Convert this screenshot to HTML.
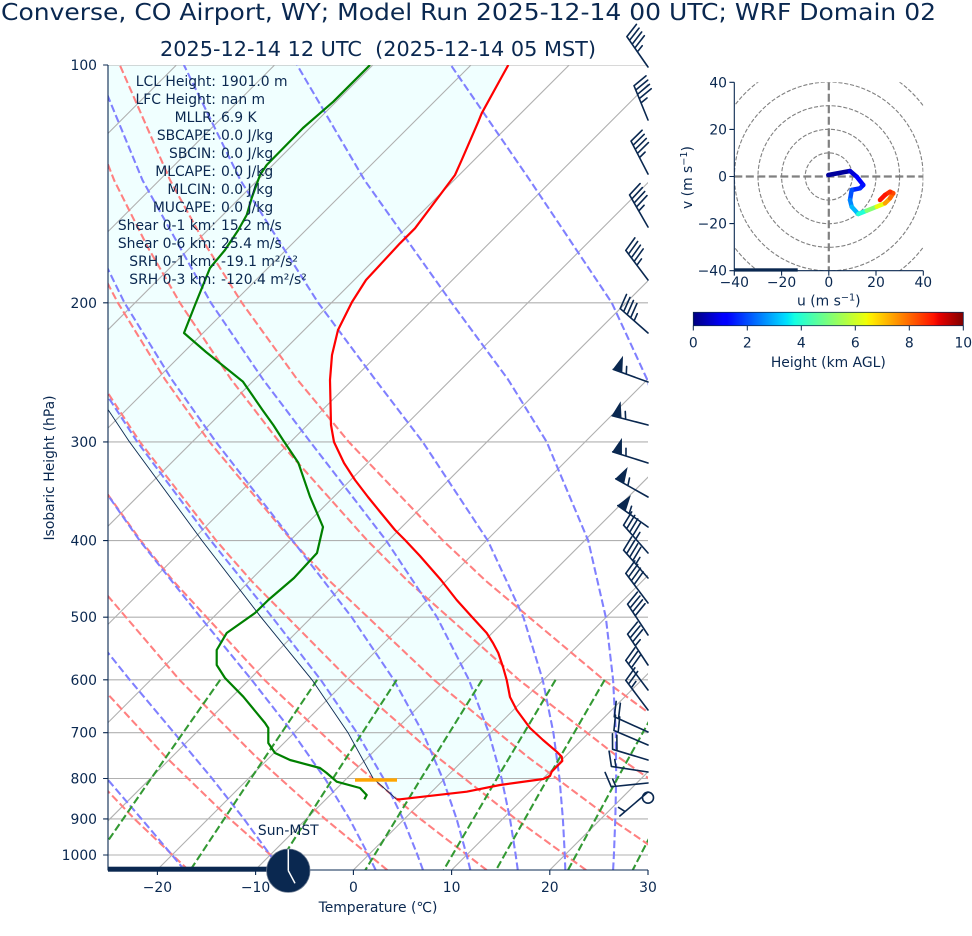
<!DOCTYPE html>
<html><head><meta charset="utf-8">
<style>
html,body{margin:0;padding:0;background:#fff;}
svg{display:block;font-family:"DejaVu Sans","Liberation Sans",sans-serif;}
text{fill:#0a2850;}
</style></head><body>
<svg width="972" height="936" viewBox="0 0 972 936" xmlns="http://www.w3.org/2000/svg" xmlns:xlink="http://www.w3.org/1999/xlink">
<defs>
<clipPath id="pc"><rect x="108" y="65" width="540" height="805"/></clipPath>
<clipPath id="hc"><rect x="734.3" y="82.3" width="189" height="188.4"/></clipPath>
<linearGradient id="jet" x1="0" y1="0" x2="1" y2="0">
<stop offset="0" stop-color="#000080"/><stop offset="0.11" stop-color="#0000ff"/><stop offset="0.125" stop-color="#0000ff"/>
<stop offset="0.34" stop-color="#00dbff"/><stop offset="0.35" stop-color="#00e5f7"/><stop offset="0.375" stop-color="#14ffe2"/>
<stop offset="0.64" stop-color="#eeff08"/><stop offset="0.65" stop-color="#f7f500"/><stop offset="0.66" stop-color="#ffec00"/>
<stop offset="0.89" stop-color="#ff1300"/><stop offset="0.91" stop-color="#e80000"/><stop offset="1" stop-color="#800000"/>
</linearGradient>
<g id="bA"><path d="M0,0H37M37,0L41.6,14.8M32.4,0L37,14.8M27.75,0L32.4,14.8M23.1,0L27.75,14.8M18.5,0L20.8,7.4"/></g>
<g id="bB"><path d="M0,0H37M23.1,0L25.4,7.4"/><path d="M37,0L32.4,14.8L27.75,0Z" fill="#0a2850" stroke-width="0.8"/></g>
<g id="bC"><path d="M0,0H37M37,0L41.6,14.8M32.4,0L37,14.8M27.75,0L32.4,14.8M23.1,0L27.75,14.8"/></g>
<g id="bD"><path d="M0,0H37M37,0L41.6,14.8M32.4,0L37,14.8M27.75,0L32.4,14.8M23.1,0L25.4,7.4"/></g>
<g id="bE"><path d="M0,0H37M37,0L41.6,14.8M32.4,0L37,14.8M27.75,0L32.4,14.8"/></g>
<g id="bF"><path d="M0,0H37M37,0L41.6,14.8M32.4,0L37,14.8M27.75,0L30.1,7.4"/></g>
<g id="bG"><path d="M0,0H37M37,0L41.6,14.8M32.4,0L37,14.8"/></g>
<g id="bH"><path d="M0,0H37M37,0L41.6,14.8M32.4,0L34.7,7.4"/></g>
<g id="bJ"><path d="M0,0H37M30.1,0L32.4,7.4"/></g>
</defs>
<rect width="972" height="936" fill="#fff"/>

<g clip-path="url(#pc)">
  <path fill="#f0ffff" stroke="none" d="M396.7,799.3 L373.2,778.5 L348,732.7 L312,679.8 L261,617.2 L202,540.6 L129.5,441.9 L88,379.4 L0,379.4 L0,60 L508.3,60 L508.3,65 L500,80 L481.7,113.3 L478.3,121.7 L461.7,160 L455,175 L440,195 L415,228.3 L400,243.3 L366,280 L352,302 L338,330 L332,355 L330,380 L331,425 L334,442 L344,463 L355,480 L368,497 L381,513 L395,530 L405,540 L420,556 L441,580 L456.7,600 L472,617 L486.7,633 L493,643 L498.3,653 L503,667 L506.7,680 L510,697 L516.7,710 L530,728 L543,740 L556.7,751.7 L561.7,756.7 L562.3,761 L558.3,765 L551.7,771.7 L550,776 L543.3,779 L500,785 L466.7,791.7 L400,799.3 Z"/>
  <g stroke="#b0b0b0" stroke-width="1.1" fill="none">
    <path d="M-628.6,870L176.4,65M-530.4,870L274.6,65M-432.2,870L372.8,65M-334,870L471,65M-235.8,870L569.2,65M-137.6,870L667.4,65M-39.4,870L765.6,65M58.8,870L863.8,65M157,870L962,65M255.2,870L1060.2,65M353.4,870L1158.4,65M451.6,870L1256.6,65M549.8,870L1354.8,65M648,870L1453,65"/>
    <path d="M108,65H648M108,302.8H648M108,441.9H648M108,540.6H648M108,617.2H648M108,679.8H648M108,732.7H648M108,778.5H648M108,818.9H648M108,855H648"/>
  </g>
  <g stroke="#ff8080" stroke-width="2.08" stroke-dasharray="7.7 3.3" fill="none">
    <path d="M188.4,870.1 L134.4,818.9 L74.6,756.3 L9.7,679.8"/>
    <path d="M287.8,870.1 L229.7,818.9 L165.1,756.3 L94.6,679.8 L17.1,581.1"/>
    <path d="M387.3,870.1 L325.0,818.9 L255.5,756.3 L179.4,679.8 L95.2,581.1 L65.1,540.6"/>
    <path d="M486.7,870.1 L420.3,818.9 L346.0,756.3 L264.3,679.8 L173.4,581.1 L140.7,540.6 L70.3,441.9"/>
    <path d="M586.1,870.1 L515.6,818.9 L436.4,756.3 L349.2,679.8 L251.6,581.1 L216.2,540.6 L139.9,441.9 L99.0,379.4 L55.9,302.8"/>
    <path d="M685.6,870.1 L610.9,818.9 L526.9,756.3 L434.0,679.8 L329.7,581.1 L291.8,540.6 L209.5,441.9 L165.0,379.4 L117.9,302.8 L88.5,247.1 L58.2,180.4"/>
    <path d="M706.2,818.9 L617.3,756.3 L518.9,679.8 L407.9,581.1 L367.4,540.6 L279.2,441.9 L231.1,379.4 L179.9,302.8 L147.7,247.1 L114.2,180.4 L69.0,65"/>
    <path d="M707.8,756.3 L603.7,679.8 L486.1,581.1 L443.0,540.6 L348.8,441.9 L297.2,379.4 L241.9,302.8 L206.9,247.1 L170.2,180.4 L119.8,65"/>
  </g>
  <g stroke="#8080ff" stroke-width="2.08" stroke-dasharray="7.7 3.3" fill="none">
    <path d="M184.5,870.1 L172.0,855 L141.5,818.9 L106.8,778.5 L67.9,732.7"/>
    <path d="M280.6,870.1 L270.2,855 L243.9,818.9 L212.1,778.5 L174.0,732.7 L129.7,679.8 L79.5,617.2 L24.0,540.6"/>
    <path d="M375.7,870.1 L368.4,855 L349.5,818.9 L324.9,778.5 L292.8,732.7 L251.6,679.8 L200.4,617.2 L139.7,540.6 L70.5,441.9 L33.1,379.4"/>
    <path d="M423.0,870.1 L417.5,855 L403.0,818.9 L383.5,778.5 L356.9,732.7 L320.7,679.8 L272.2,617.2 L210.8,540.6 L137.3,441.9 L96.7,379.4 L54.0,302.8"/>
    <path d="M470.4,870.1 L466.6,855 L456.6,818.9 L442.7,778.5 L422.8,732.7 L393.8,679.8 L351.7,617.2 L292.6,540.6 L215.9,441.9 L171.7,379.4 L124.5,302.8 L64.4,180.4"/>
    <path d="M517.8,870.1 L515.7,855 L510.0,818.9 L501.6,778.5 L488.8,732.7 L468.9,679.8 L437.0,617.2 L386.2,540.6 L310.3,441.9 L263.0,379.4 L210.9,302.8 L142.6,180.4 L95.0,65"/>
    <path d="M565.3,870.1 L564.8,855 L562.9,818.9 L559.5,778.5 L553.4,732.7 L542.7,679.8 L523.4,617.2 L487.8,540.6 L422.7,441.9 L375.1,379.4 L318.2,302.8 L240.5,180.4 L183.9,65"/>
    <path d="M613.1,870.1 L613.9,855 L615.3,818.9 L616.2,778.5 L615.8,732.7 L613.1,679.8 L605.8,617.2 L588.2,540.6 L546.7,441.9 L508.0,379.4 L451.6,302.8 L364.7,180.4 L297.1,65"/>
    <path d="M661.2,870.1 L663.0,855 L667.2,818.9 L671.4,778.5 L675.7,732.7 L679.5,679.8 L681.8,617.2 L680.0,540.6 L666.1,441.9 L647.1,379.4 L611.8,302.8 L530.0,180.4 L450.8,65"/>
  </g>
  <g stroke="#339933" stroke-width="2.08" stroke-dasharray="7.7 3.3" fill="none">
    <path d="M220.2,679.8 L151.1,778.5 L87.7,870.1"/>
    <path d="M317.2,679.8 L250.9,778.5 L190.3,870.1"/>
    <path d="M396.7,679.8 L332.9,778.5 L274.6,870.1"/>
    <path d="M482.1,679.8 L421.0,778.5 L365.3,870.1"/>
    <path d="M555.6,679.8 L496.9,778.5 L443.6,870.1"/>
    <path d="M604.7,679.8 L547.7,778.5 L496.0,870.1"/>
    <path d="M672.1,679.8 L617.4,778.5 L568.0,870.1"/>
    <path d="M732.5,679.8 L680.0,778.5 L632.7,870.1"/>
  </g>
  <path stroke="#0a2850" stroke-width="0.9" fill="none" d="M396.7,799.3 L373.2,778.5 L348,732.7 L312,679.8 L261,617.2 L202,540.6 L129.5,441.9 L88,379.4 L42,302.8"/>
  <path stroke="#ff0000" stroke-width="2.2" fill="none" stroke-linejoin="round" d="M508.3,65 L500,80 L481.7,113.3 L478.3,121.7 L461.7,160 L455,175 L440,195 L415,228.3 L400,243.3 L366,280 L352,302 L338,330 L332,355 L330,380 L331,425 L334,442 L344,463 L355,480 L368,497 L381,513 L395,530 L405,540 L420,556 L441,580 L456.7,600 L472,617 L486.7,633 L493,643 L498.3,653 L503,667 L506.7,680 L510,697 L516.7,710 L530,728 L543,740 L556.7,751.7 L561.7,756.7 L562.3,761 L558.3,765 L551.7,771.7 L550,776 L543.3,779 L500,785 L466.7,791.7 L400,799.3 L396.7,799.3"/>
  <path stroke="#008000" stroke-width="2.2" fill="none" stroke-linejoin="round" d="M370,65 L333.3,101.7 L303,128 L266.7,165 L260,175 L251.7,198 L246.7,215 L238.3,230 L225,250 L210,268 L195,305 L184,333 L206,352 L243,381.7 L262.5,410 L273.3,425 L283,440 L298.3,462.7 L310,496.7 L323,527 L317,553 L294,578 L268.3,600 L255,613 L226.7,633 L216.7,650 L216.7,665 L225,678 L243.3,696.7 L265,723 L268.3,728 L268.3,743 L275,753 L290,760 L320,768 L326.7,773 L336.7,781.7 L360,788 L366.7,795 L364.3,799.3"/>
  <rect x="355" y="778.3" width="42" height="3.4" fill="#ffa500"/>
</g>

<g stroke="#0a2850" stroke-width="1.1" fill="none">
  <path d="M108,65V870H648"/>
  <path d="M103.1,65H108M103.1,302.8H108M103.1,441.9H108M103.1,540.6H108M103.1,617.2H108M103.1,679.8H108M103.1,732.7H108M103.1,778.5H108M103.1,818.9H108M103.1,855H108"/>
  <path d="M157.4,870V875M255.6,870V875M353.4,870V875M451.6,870V875M549.8,870V875M648,870V875"/>
</g>
<rect x="108" y="866.7" width="159" height="5" fill="#0a2850"/>

<text x="1" y="20" font-size="23" textLength="935" lengthAdjust="spacingAndGlyphs">Converse, CO Airport, WY; Model Run 2025-12-14 00 UTC; WRF Domain 02</text>
<text x="160" y="56" font-size="20.8" textLength="436" lengthAdjust="spacingAndGlyphs" style="white-space:pre">2025-12-14 12 UTC  (2025-12-14 05 MST)</text>

<g font-size="13.9" text-anchor="end">
<text x="97" y="70">100</text>
<text x="97" y="307.8">200</text>
<text x="97" y="446.9">300</text>
<text x="97" y="545.6">400</text>
<text x="97" y="622.2">500</text>
<text x="97" y="684.8">600</text>
<text x="97" y="737.7">700</text>
<text x="97" y="783.5">800</text>
<text x="97" y="823.9">900</text>
<text x="97" y="860">1000</text>
</g>
<g font-size="13.9" text-anchor="middle">
<text x="157.4" y="892">−20</text>
<text x="255.6" y="892">−10</text>
<text x="353.4" y="892">0</text>
<text x="451.6" y="892">10</text>
<text x="549.8" y="892">20</text>
<text x="648" y="892">30</text>
<text x="378" y="912">Temperature (℃)</text>
<text transform="translate(54,468) rotate(-90)">Isobaric Height (hPa)</text>
</g>

<g font-size="13.9">
<g text-anchor="end">
<text x="216" y="86">LCL Height:</text>
<text x="216" y="104">LFC Height:</text>
<text x="216" y="122">MLLR:</text>
<text x="216" y="140">SBCAPE:</text>
<text x="216" y="158">SBCIN:</text>
<text x="216" y="176">MLCAPE:</text>
<text x="216" y="194">MLCIN:</text>
<text x="216" y="212">MUCAPE:</text>
<text x="216" y="230">Shear 0-1 km:</text>
<text x="216" y="248">Shear 0-6 km:</text>
<text x="216" y="266">SRH 0-1 km:</text>
<text x="216" y="284">SRH 0-3 km:</text>
</g>
<g text-anchor="start">
<text x="221" y="86">1901.0 m</text>
<text x="221" y="104">nan m</text>
<text x="221" y="122">6.9 K</text>
<text x="221" y="140">0.0 J/kg</text>
<text x="221" y="158">0.0 J/kg</text>
<text x="221" y="176">0.0 J/kg</text>
<text x="221" y="194">0.0 J/kg</text>
<text x="221" y="212">0.0 J/kg</text>
<text x="221" y="230">15.2 m/s</text>
<text x="221" y="248">25.4 m/s</text>
<text x="221" y="266">-19.1 m²/s²</text>
<text x="221" y="284">-120.4 m²/s²</text>
</g>
</g>

<text x="288.3" y="835" font-size="13.9" text-anchor="middle">Sun-MST</text>
<circle cx="288.3" cy="870.7" r="21.7" fill="#0a2850" stroke="#6b7a90" stroke-width="0.8"/>
<line x1="288.3" y1="870.7" x2="288.3" y2="849.3" stroke="#fff" stroke-width="1.5"/>
<line x1="288.3" y1="870.7" x2="295" y2="883.3" stroke="#fff" stroke-width="1.5"/>

<g stroke="#0a2850" stroke-width="1.6" fill="none" stroke-linecap="round">
<use href="#bA" xlink:href="#bA" transform="translate(648,67) rotate(-124.8)"/>
<use href="#bA" xlink:href="#bA" transform="translate(648,120) rotate(-112.2)"/>
<use href="#bA" xlink:href="#bA" transform="translate(648,174) rotate(-117.3)"/>
<use href="#bA" xlink:href="#bA" transform="translate(648,227) rotate(-119.9)"/>
<use href="#bA" xlink:href="#bA" transform="translate(648,280) rotate(-126.9)"/>
<use href="#bA" xlink:href="#bA" transform="translate(648,333) rotate(-138.7)"/>
<use href="#bB" xlink:href="#bB" transform="translate(648,382) rotate(-160.1)"/>
<use href="#bB" xlink:href="#bB" transform="translate(648,425) rotate(-165.5)"/>
<use href="#bB" xlink:href="#bB" transform="translate(648,463) rotate(-162.5)"/>
<use href="#bB" xlink:href="#bB" transform="translate(648,497) rotate(-150.6)"/>
<use href="#bB" xlink:href="#bB" transform="translate(648,527) rotate(-144.7)"/>
<use href="#bA" xlink:href="#bA" transform="translate(648,553) rotate(-131.3)"/>
<use href="#bA" xlink:href="#bA" transform="translate(648,578) rotate(-131.3)"/>
<use href="#bC" xlink:href="#bC" transform="translate(648,603) rotate(-126.9)"/>
<use href="#bC" xlink:href="#bC" transform="translate(648,635) rotate(-123.5)"/>
<use href="#bD" xlink:href="#bD" transform="translate(648,665) rotate(-123.5)"/>
<use href="#bE" xlink:href="#bE" transform="translate(648,690) rotate(-126.9)"/>
<use href="#bF" xlink:href="#bF" transform="translate(648,710) rotate(-126.9)"/>
<use href="#bG" xlink:href="#bG" transform="translate(648,732) rotate(-155.7)"/>
<use href="#bG" xlink:href="#bG" transform="translate(648,745) rotate(-157)"/>
<use href="#bG" xlink:href="#bG" transform="translate(648,760) rotate(-163.2)"/>
<use href="#bH" xlink:href="#bH" transform="translate(648,772) rotate(-171.4)"/>
<use href="#bH" xlink:href="#bH" transform="translate(648,783) rotate(174.2)"/>
<use href="#bJ" xlink:href="#bJ" transform="translate(648,792) rotate(139.5)"/>
<circle cx="648" cy="797.7" r="5.5"/>
</g>

<g clip-path="url(#hc)">
  <g stroke="#808080" stroke-width="1.1" stroke-dasharray="4.1 1.8" fill="none">
    <circle cx="828.8" cy="176.5" r="23.6"/>
    <circle cx="828.8" cy="176.5" r="47.2"/>
    <circle cx="828.8" cy="176.5" r="70.8"/>
    <circle cx="828.8" cy="176.5" r="94.4"/>
    <circle cx="828.8" cy="176.5" r="118"/>
  </g>
  <line x1="828.8" y1="82.3" x2="828.8" y2="270.7" stroke="#808080" stroke-width="2.2" stroke-dasharray="8 3.5"/>
  <line x1="734.3" y1="176.5" x2="923.3" y2="176.5" stroke="#808080" stroke-width="2.2" stroke-dasharray="8 3.5"/>
  <g stroke-width="4.5" stroke-linecap="round" fill="none">
    <path d="M828.3,175L850,171" stroke="rgb(0,0,157)"/>
    <path d="M850,171L856.7,176.7" stroke="rgb(0,0,214)"/>
    <path d="M856.7,176.7L863.3,185" stroke="rgb(0,0,255)"/>
    <path d="M863.3,185L860,188.3" stroke="rgb(0,15,255)"/>
    <path d="M860,188.3L851.7,190" stroke="rgb(0,41,255)"/>
    <path d="M851.7,190L850,200" stroke="rgb(0,82,255)"/>
    <path d="M850,200L851.7,206.7" stroke="rgb(0,133,255)"/>
    <path d="M851.7,206.7L858.3,214" stroke="rgb(0,184,255)"/>
    <path d="M858.3,214L866.7,210.7" stroke="rgb(33,255,214)"/>
    <path d="M866.7,210.7L876.7,206.7" stroke="rgb(132,255,115)"/>
    <path d="M876.7,206.7L885,203.3" stroke="rgb(234,255,12)"/>
    <path d="M885,203.3L890,198.3" stroke="rgb(255,161,0)"/>
    <path d="M890,198.3L893.3,193.3" stroke="rgb(255,104,0)"/>
    <path d="M893.3,193.3L890,191.7" stroke="rgb(255,71,0)"/>
    <path d="M890,191.7L885,195" stroke="rgb(255,43,0)"/>
    <path d="M885,195L880,200" stroke="rgb(255,19,0)"/>
  </g>
</g>
<rect x="734.3" y="268.3" width="63.4" height="3.3" fill="#0a2850"/>
<g stroke="#0a2850" stroke-width="1.1" fill="none">
  <path d="M734.3,82.3V270.7H923.3"/>
  <path d="M729.4,82.3H734.3M729.4,129.4H734.3M729.4,176.5H734.3M729.4,223.6H734.3M729.4,270.7H734.3"/>
  <path d="M734.3,270.7V275.6M781.6,270.7V275.6M828.8,270.7V275.6M876,270.7V275.6M923.3,270.7V275.6"/>
</g>
<g font-size="13.9">
<g text-anchor="end">
<text x="727" y="87.3">40</text>
<text x="727" y="134.4">20</text>
<text x="727" y="181.5">0</text>
<text x="727" y="228.6">−20</text>
<text x="727" y="275.7">−40</text>
</g>
<g text-anchor="middle">
<text x="734.3" y="287">−40</text>
<text x="781.6" y="287">−20</text>
<text x="828.8" y="287">0</text>
<text x="876" y="287">20</text>
<text x="923.3" y="287">40</text>
<text x="828.8" y="305.5">u (m s<tspan font-size="9.7" dy="-5">−1</tspan><tspan dy="5">)</tspan></text>
<text transform="translate(692,177.5) rotate(-90)">v (m s<tspan font-size="9.7" dy="-5">−1</tspan><tspan dy="5">)</tspan></text>
</g>
</g>

<rect x="693.3" y="312.3" width="270" height="13.4" fill="url(#jet)" stroke="#0a2850" stroke-width="0.8"/>
<path d="M693.3,325.7V330.5M747.3,325.7V330.5M801.3,325.7V330.5M855.3,325.7V330.5M909.3,325.7V330.5M963.3,325.7V330.5" stroke="#0a2850" stroke-width="1"/>
<g font-size="13.9" text-anchor="middle">
<text x="693.3" y="347.5">0</text>
<text x="747.3" y="347.5">2</text>
<text x="801.3" y="347.5">4</text>
<text x="855.3" y="347.5">6</text>
<text x="909.3" y="347.5">8</text>
<text x="963.3" y="347.5">10</text>
<text x="828.3" y="367">Height (km AGL)</text>
</g>
</svg>
</body></html>
